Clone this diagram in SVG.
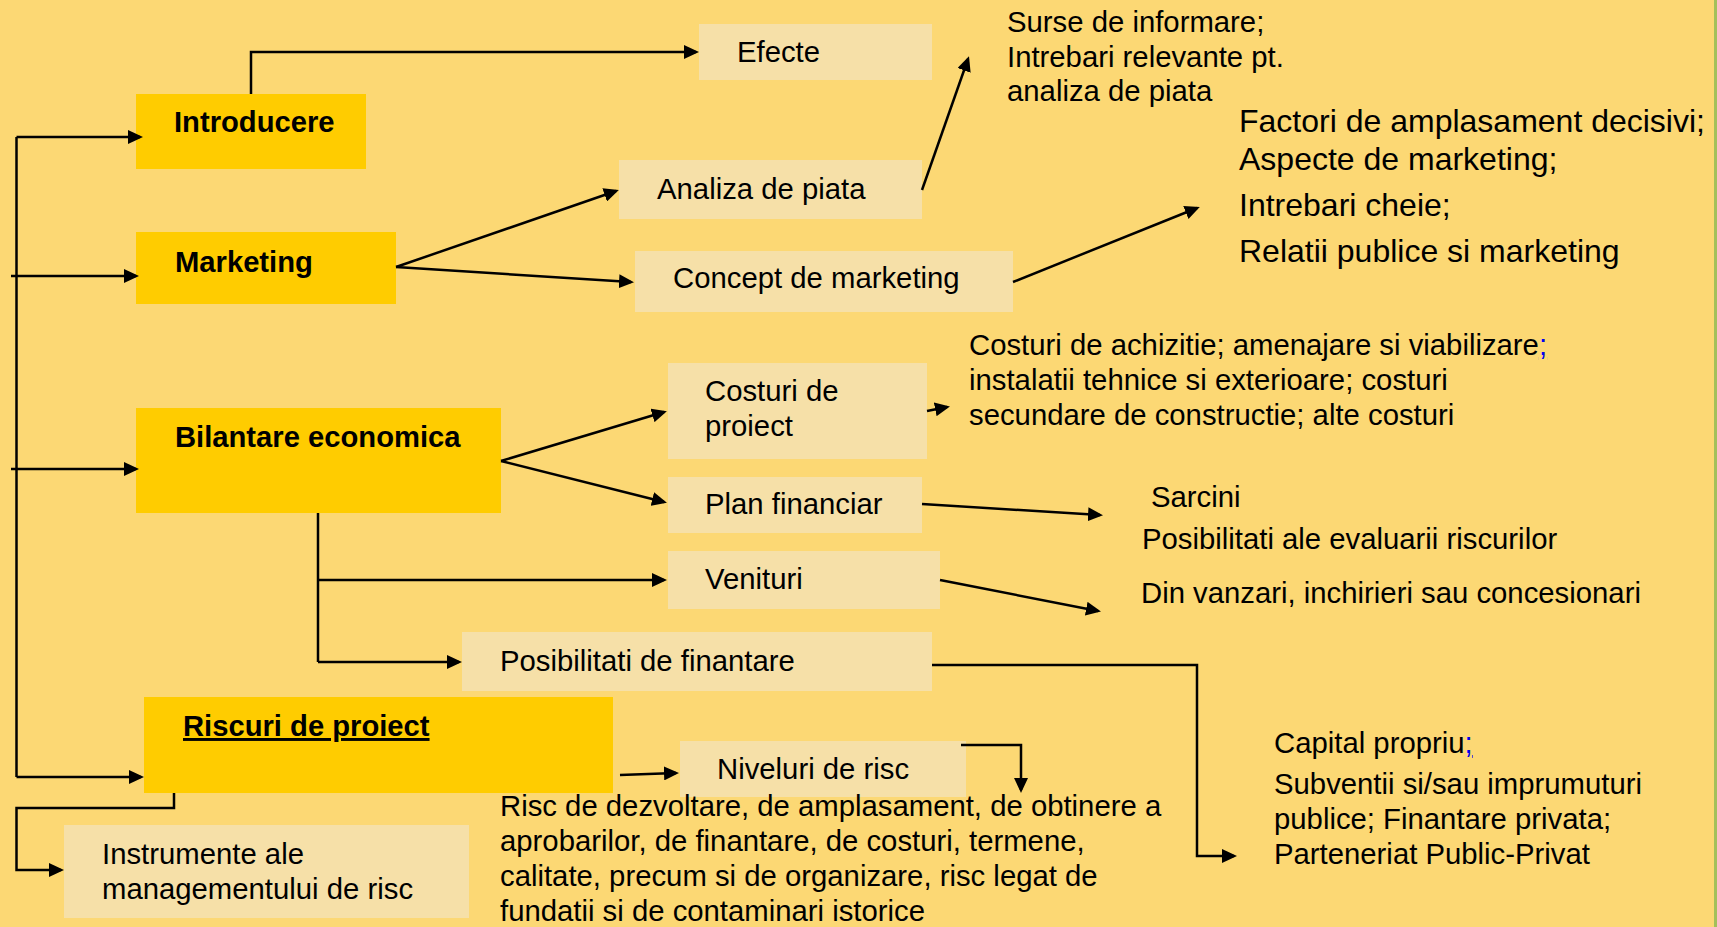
<svg xmlns="http://www.w3.org/2000/svg" width="1717" height="927" viewBox="0 0 1717 927">
<defs>
<style>
.bg{fill:#FCD874}
.main{fill:#FFCC00}
.light{fill:#F6E0A8}
text{font-family:"Liberation Sans",Arial,sans-serif;font-size:29.3px;fill:#000}
.b{font-weight:bold;font-size:29.2px}
.big{font-size:32px}
.lnk{fill:#0000EE;text-decoration:underline}
.c{fill:none;stroke:#000;stroke-width:2.5}
.a{marker-end:url(#arr)}
</style>
<marker id="arr" markerUnits="userSpaceOnUse" markerWidth="16" markerHeight="14" refX="12" refY="7" orient="auto">
<path d="M0,0 L15,7 L0,14 z" fill="#000"/>
</marker>
</defs>
<rect class="bg" x="0" y="0" width="1717" height="927"/>
<rect x="1714" y="0" width="3" height="927" fill="#A3C05A"/>

<g id="n-efecte"><rect class="light" x="699" y="24" width="233" height="56"/><text x="737" y="62">Efecte</text></g>
<g id="n-introducere"><rect class="main" x="136" y="94" width="230" height="75"/><text class="b" x="174" y="132">Introducere</text></g>
<g id="n-analiza"><rect class="light" x="619" y="160" width="303" height="59"/><text x="657" y="199">Analiza de piata</text></g>
<g id="n-marketing"><rect class="main" x="136" y="232" width="260" height="72"/><text class="b" x="175" y="272">Marketing</text></g>
<g id="n-concept"><rect class="light" x="635" y="251" width="378" height="61"/><text x="673" y="288">Concept de marketing</text></g>
<g id="n-costuri"><rect class="light" x="668" y="363" width="259" height="96"/><text x="705" y="401">Costuri de</text><text x="705" y="436">proiect</text></g>
<g id="n-bilantare"><rect class="main" x="136" y="408" width="365" height="105"/><text class="b" x="175" y="447">Bilantare economica</text></g>
<g id="n-plan"><rect class="light" x="668" y="477" width="254" height="56"/><text x="705" y="514">Plan financiar</text></g>
<g id="n-venituri"><rect class="light" x="668" y="551" width="272" height="58"/><text x="705" y="589">Venituri</text></g>
<g id="n-posibilitati"><rect class="light" x="462" y="632" width="470" height="59"/><text x="500" y="671">Posibilitati de finantare</text></g>
<g id="n-riscuri"><rect class="main" x="144" y="697" width="469" height="96"/><text class="b" x="183" y="736" text-decoration="underline">Riscuri de proiect</text></g>
<g id="n-niveluri"><rect class="light" x="680" y="741" width="286" height="56"/><text x="717" y="779">Niveluri de risc</text></g>
<g id="n-instrumente"><rect class="light" x="64" y="825" width="405" height="93"/><text x="102" y="864">Instrumente ale</text><text x="102" y="899">managementului de risc</text></g>

<g id="t-surse"><text x="1007" y="32">Surse de informare;</text><text x="1007" y="67">Intrebari relevante pt.</text><text x="1007" y="101">analiza de piata</text></g>
<g id="t-factori"><text class="big" x="1239" y="132">Factori de amplasament decisivi;</text><text class="big" x="1239" y="170">Aspecte de marketing;</text><text class="big" x="1239" y="216">Intrebari cheie;</text><text class="big" x="1239" y="262">Relatii publice si marketing</text></g>
<g id="t-costuri"><text x="969" y="355">Costuri de achizitie; amenajare si viabilizare<tspan class="lnk">;</tspan></text><text x="969" y="390">instalatii tehnice si exterioare; costuri</text><text x="969" y="425">secundare de constructie; alte costuri</text></g>
<g id="t-sarcini"><text x="1151" y="507">Sarcini</text><text x="1142" y="549">Posibilitati ale evaluarii riscurilor</text></g>
<g id="t-vanzari"><text x="1141" y="603">Din vanzari, inchirieri sau concesionari</text></g>
<g id="t-risc"><text x="500" y="816">Risc de dezvoltare, de amplasament, de obtinere a</text><text x="500" y="851">aprobarilor, de finantare, de costuri, termene,</text><text x="500" y="886">calitate, precum si de organizare, risc legat de</text><text x="500" y="921">fundatii si de contaminari istorice</text></g>
<g id="t-capital"><text x="1274" y="753">Capital propriu<tspan class="lnk">;</tspan></text><text x="1274" y="794">Subventii si/sau imprumuturi</text><text x="1274" y="829">publice; Finantare privata;</text><text x="1274" y="864">Parteneriat Public-Privat</text></g>

<g id="connectors">
<path class="c" d="M16.5,137 V777"/>
<path class="c a" d="M16.5,137 H140"/>
<path class="c a" d="M11,276 H136"/>
<path class="c a" d="M11,469 H136"/>
<path class="c a" d="M16.5,777 H141"/>
<path class="c a" d="M251,94 V52 H696"/>
<path class="c a" d="M396,267 L616,191"/>
<path class="c a" d="M396,267 L631,282"/>
<path class="c a" d="M922,190 L968,59"/>
<path class="c a" d="M1013,282 L1197,208"/>
<path class="c a" d="M501,461 L664,412"/>
<path class="c a" d="M501,461 L664,502"/>
<path class="c" d="M318,513 V662"/>
<path class="c a" d="M318,662 H459"/>
<path class="c a" d="M318,580 H664"/>
<path class="c a" d="M927,411 L947,407"/>
<path class="c a" d="M922,504 L1100,515"/>
<path class="c a" d="M940,580 L1098,611"/>
<path class="c a" d="M932,665 H1197 V856 H1234"/>
<path class="c a" d="M620,775 L676,773"/>
<path class="c a" d="M961,745 H1021 V790"/>
<path class="c a" d="M174,793 V808 H16.5 V870 H61"/>
</g>
</svg>
